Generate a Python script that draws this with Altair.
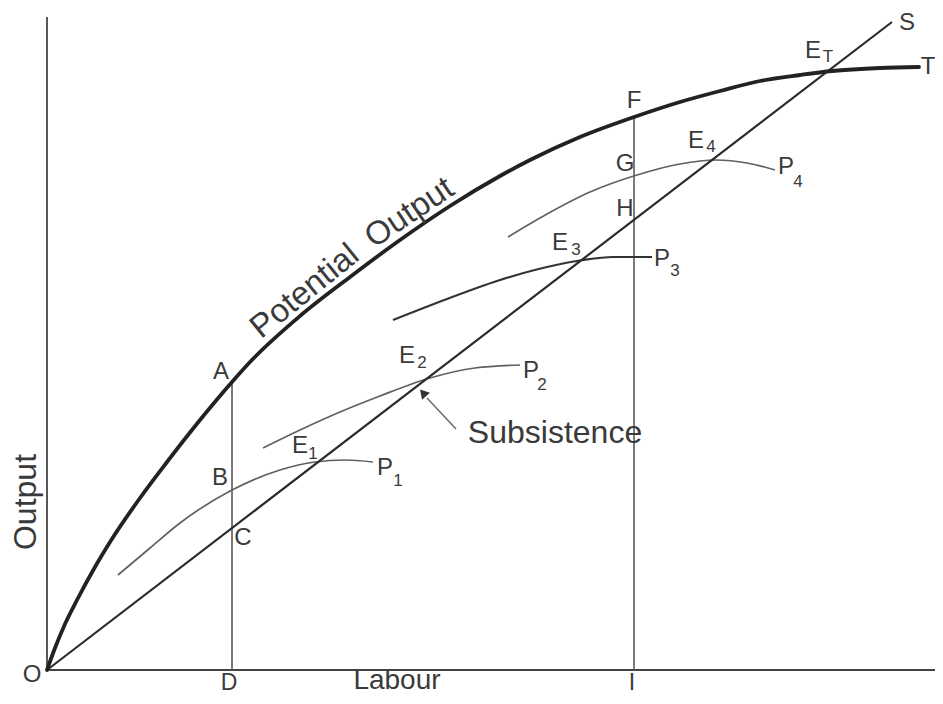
import altair as alt
import pandas as pd

# ---- data (labour, output) in arbitrary units from origin O ----
pot_labour = [0, 8, 18, 30, 48, 63, 93, 120, 153, 185, 203, 253, 303, 353, 403, 453, 483, 533, 590, 633, 673, 713, 753, 785, 833, 872]
pot_output = [0, 22, 46, 70, 103, 128, 172, 208, 250, 288, 308, 354, 393, 430, 464, 494, 510, 533, 554, 568, 579, 589, 595, 599, 602, 603]

subs_labour = [0, 845]
subs_output = [0, 648]

p1_labour = [71, 103, 133, 185, 233, 268, 298, 326]
p1_output = [95, 122, 147, 180, 200, 208, 210, 208]
p2_labour = [216, 253, 293, 333, 383, 428, 473]
p2_output = [222, 240, 258, 274, 292, 302, 305]
p3_labour = [346, 400, 450, 500, 536, 566, 605]
p3_output = [350, 371, 389, 403, 410, 413, 413]
p4_labour = [461, 500, 543, 590, 633, 669, 700, 728]
p4_output = [433, 456, 478, 495, 506, 510, 507, 500]

# vertical guides at D and I
guide_labour = [185, 587]
guide_top = [289, 554]

# axes
axis_x_end = 896
axis_y_end = 653

# labels
letter_text = ["O", "A", "B", "C", "E", "P", "E", "P", "E", "P", "F", "G", "H", "E", "P", "E", "S", "T"]
letter_labour = [-15, 174, 173, 196, 253, 338, 360, 484, 513, 615, 587, 578, 578, 649, 739, 766, 860, 881]
letter_output = [-5, 298, 192, 132, 224, 202, 314, 299, 427, 411, 569, 506, 461, 529, 503, 619, 647, 603]

bottom_text = ["D", "I"]
bottom_labour = [182, 585]
bottom_output = [-20, -20]

sub_text = ["1", "1", "2", "2", "3", "3", "4", "4", "T"]
sub_labour = [266, 351, 375, 495, 529, 628, 664, 751, 781]
sub_output = [216, 189, 307, 285, 420, 399, 523, 488, 613]

word_text = ["Output", "Subsistence"]
word_labour = [-21, 508]
word_output = [168, 237]
word_angle = [270, 0]

axis_word = ["Labour"]
axis_word_labour = [350]
axis_word_output = [-19]

curve_text = ["Potential", "Output"]
curve_labour = [264, 368]
curve_output = [371, 449]
curve_angle = [321, 326]

arrow_labour = [409, 380]
arrow_output = [241, 272]
head_labour = [377]
head_output = [276]

# ---- build frames ----
def curve(name, xs, ys):
    return pd.DataFrame({"series": name, "order": range(len(xs)), "labour": xs, "output": ys})

pot = curve("Potential Output", pot_labour, pot_output)
subs = curve("Subsistence", subs_labour, subs_output)
plight = pd.concat([curve("P1", p1_labour, p1_output),
                    curve("P2", p2_labour, p2_output),
                    curve("P4", p4_labour, p4_output)])
pdark = curve("P3", p3_labour, p3_output)

W, H = 927, 688
xs = alt.Scale(domain=[-39, 888], nice=False, zero=False)
ys = alt.Scale(domain=[-26, 662], nice=False, zero=False)
X = lambda f="labour": alt.X(f + ":Q", scale=xs, axis=None)
Y = lambda f="output": alt.Y(f + ":Q", scale=ys, axis=None)

ink = "#2b2b2b"
grey = "#5a5a5a"
txt = "#3a3a3a"
font = "Liberation Sans"

axes_df = pd.DataFrame({"x": [0, 0], "y": [0, 0], "x2": [axis_x_end, 0], "y2": [0, axis_y_end]})
axes = alt.Chart(axes_df).mark_rule(color="#444", strokeWidth=1.8).encode(
    x=X("x"), y=Y("y"), x2="x2:Q", y2="y2:Q")

guides_df = pd.DataFrame({"labour": guide_labour, "base": [0, 0], "top": guide_top})
guides = alt.Chart(guides_df).mark_rule(color=grey, strokeWidth=1.6).encode(
    x=X(), y=Y("base"), y2="top:Q")

pot_line = alt.Chart(pot).mark_line(color="#222", strokeWidth=3.8, interpolate="monotone",
                                    strokeCap="round").encode(x=X(), y=Y(), order="order:Q")
subs_line = alt.Chart(subs).mark_line(color=ink, strokeWidth=2.2).encode(x=X(), y=Y(), order="order:Q")
pl_lines = alt.Chart(plight).mark_line(color="#606060", strokeWidth=1.7, interpolate="monotone").encode(
    x=X(), y=Y(), detail="series:N", order="order:Q")
pd_line = alt.Chart(pdark).mark_line(color="#333", strokeWidth=2.1, interpolate="monotone").encode(
    x=X(), y=Y(), order="order:Q")

arrow_df = pd.DataFrame({"labour": arrow_labour, "output": arrow_output, "order": [0, 1]})
arrow = alt.Chart(arrow_df).mark_line(color="#666", strokeWidth=1.4).encode(x=X(), y=Y(), order="order:Q")
head = alt.Chart(pd.DataFrame({"labour": head_labour, "output": head_output})).mark_point(
    shape="triangle", filled=True, color="#333", size=110, angle=319, opacity=1).encode(x=X(), y=Y())

letters = alt.Chart(pd.DataFrame({"t": letter_text, "labour": letter_labour, "output": letter_output})).mark_text(
    font=font, fontSize=24, color=txt, align="center", baseline="middle").encode(x=X(), y=Y(), text="t:N")
bottoms = alt.Chart(pd.DataFrame({"t": bottom_text, "labour": bottom_labour, "output": bottom_output})).mark_text(
    font=font, fontSize=23, color=txt, align="center", baseline="alphabetic").encode(x=X(), y=Y(), text="t:N")
subs_t = alt.Chart(pd.DataFrame({"t": sub_text, "labour": sub_labour, "output": sub_output})).mark_text(
    font=font, fontSize=17, color=txt, align="center", baseline="middle").encode(x=X(), y=Y(), text="t:N")
words = alt.Chart(pd.DataFrame({"t": word_text, "labour": word_labour, "output": word_output, "a": word_angle})).mark_text(
    font=font, fontSize=32, color=txt, align="center", baseline="middle").encode(
    x=X(), y=Y(), text="t:N", angle=alt.Angle("a:Q", scale=None))
axis_words = alt.Chart(pd.DataFrame({"t": axis_word, "labour": axis_word_labour, "output": axis_word_output})).mark_text(
    font=font, fontSize=28, color=txt, align="center", baseline="alphabetic").encode(x=X(), y=Y(), text="t:N")
curve_words = alt.Chart(pd.DataFrame({"t": curve_text, "labour": curve_labour, "output": curve_output, "a": curve_angle})).mark_text(
    font=font, fontSize=33, color=txt, align="center", baseline="alphabetic").encode(
    x=X(), y=Y(), text="t:N", angle=alt.Angle("a:Q", scale=None))

chart = alt.layer(axes, guides, pl_lines, pd_line, subs_line, pot_line, arrow, head,
                  letters, bottoms, subs_t, words, axis_words, curve_words).properties(
    width=W, height=H, autosize=alt.AutoSizeParams(type="none"), padding=0, background="white"
).configure_view(stroke=None)

chart.save("out.html", embed_options={"renderer": "svg", "actions": False})
